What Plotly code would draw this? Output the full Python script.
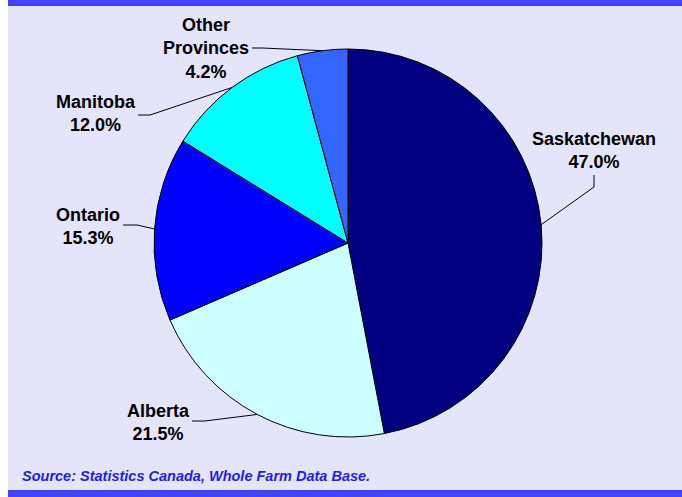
import math
import plotly.graph_objects as go

provinces = ["Saskatchewan", "Alberta", "Ontario", "Manitoba", "Other Provinces"]
label_text = ["Saskatchewan", "Alberta", "Ontario", "Manitoba", "Other<br>Provinces"]
shares = [47.0, 21.5, 15.3, 12.0, 4.2]
colors = ["#000080", "#CCFFFF", "#0000FF", "#00FFFF", "#3366FF"]
source_note = "Source: Statistics Canada, Whole Farm Data Base."

W, H = 682, 497
CX, CY, R = 348, 243, 194

# label centres (pixels) and elbow start points of leader lines
label_pos = [(594, 150), (158, 422), (88, 226), (96, 113), (206, 49)]
leader_start = [[(594, 175), (594, 187)],
                [(192, 421), (205, 421)],
                [(123, 225), (137, 225)],
                [(138, 115), (150, 115)],
                [(252, 48), (262, 48)]]

def px(x):
    return x / W

def py(y):
    return 1 - y / H

fig = go.Figure()
fig.add_trace(go.Pie(
    labels=provinces, values=shares, sort=False, direction="clockwise",
    rotation=0, marker=dict(colors=colors, line=dict(color="black", width=1)),
    textinfo="none", hoverinfo="label+percent", showlegend=False,
    domain=dict(x=[px(CX - R), px(CX + R)], y=[py(CY + R), py(CY - R)]),
))

shapes = [
    dict(type="rect", xref="paper", yref="paper", x0=px(8), x1=1, y0=0, y1=1,
         fillcolor="#E4E4FB", line=dict(width=0), layer="below"),
    dict(type="rect", xref="paper", yref="paper", x0=px(8), x1=1, y0=py(6), y1=1,
         fillcolor="#4141FF", line=dict(width=0), layer="below"),
    dict(type="rect", xref="paper", yref="paper", x0=px(8), x1=1, y0=0, y1=py(490),
         fillcolor="#4141FF", line=dict(width=0), layer="below"),
]
annotations = []
total = sum(shares)
cum = 0.0
for i, v in enumerate(shares):
    mid = (cum + v / 2) / total
    cum += v
    ang = 2 * math.pi * mid
    ex = CX + R * math.sin(ang)
    ey = CY - R * math.cos(ang)
    pts = leader_start[i] + [(ex, ey)]
    path = "M " + " L ".join(f"{px(x):.5f},{py(y):.5f}" for x, y in pts)
    shapes.append(dict(type="path", xref="paper", yref="paper", path=path,
                       line=dict(color="black", width=1)))
    lx, ly = label_pos[i]
    annotations.append(dict(
        x=px(lx), y=py(ly), xref="paper", yref="paper", showarrow=False,
        text=f"<b>{label_text[i]}<br>{v:.1f}%</b>", align="center",
        xanchor="center", yanchor="middle",
        font=dict(family="Liberation Sans, Arial", size=18, color="black"),
    ))

annotations.append(dict(
    x=px(20), y=py(476), xref="paper", yref="paper", showarrow=False,
    text=f"<b><i>{source_note}</i></b>", xanchor="left", yanchor="middle",
    font=dict(family="Liberation Sans, Arial", size=14.5, color="#1F1FE6"),
))

fig.update_layout(
    width=W, height=H, margin=dict(l=0, r=0, t=0, b=0),
    paper_bgcolor="white", plot_bgcolor="white",
    shapes=shapes, annotations=annotations,
)
fig.write_html(
    "out.html",
    config={"displayModeBar": False},
    post_script="document.body.style.margin='0';document.body.style.overflow='hidden';",
)
